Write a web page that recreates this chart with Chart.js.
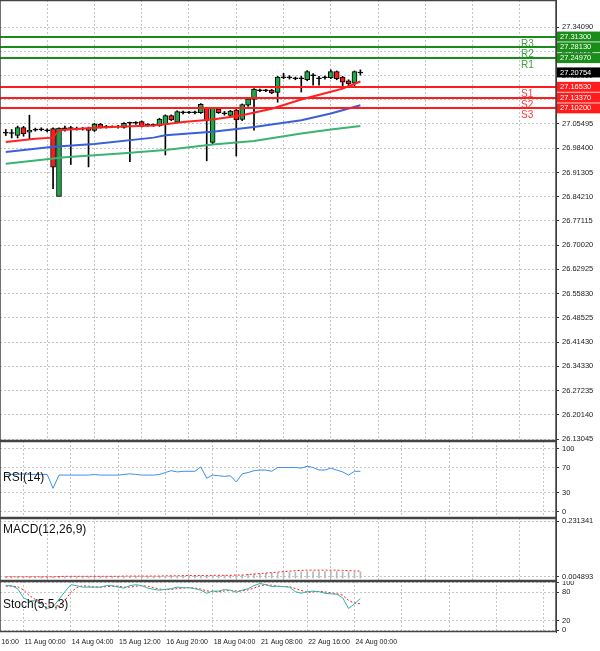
<!DOCTYPE html>
<html>
<head>
<meta charset="utf-8">
<script src="https://cdn.jsdelivr.net/npm/chart.js@4"></script>
<style>
  body { margin: 0; background: #fff; }
  .panel { position: absolute; left: 0; width: 600px; }
</style>
</head>
<body>
<div class="panel" style="top:0;height:441px"><canvas id="priceChart"></canvas></div>
<div class="panel" style="top:441px;height:77px"><canvas id="rsiChart"></canvas></div>
<div class="panel" style="top:518px;height:63px"><canvas id="macdChart"></canvas></div>
<div class="panel" style="top:581px;height:70px"><canvas id="stochChart"></canvas></div>
<script>
// candles: [open, high, low, close]
const candles = [
  [27.030,27.040,27.022,27.031],[27.029,27.040,27.015,27.030],[27.023,27.050,27.015,27.045],
  [27.045,27.049,27.020,27.028],[27.033,27.082,27.010,27.037],[27.039,27.044,27.035,27.040],
  [27.040,27.045,27.036,27.041],[27.037,27.042,27.033,27.038],[27.042,27.045,26.866,26.930],
  [26.844,27.045,26.844,27.043],[27.043,27.050,27.035,27.044],[27.044,27.049,26.937,27.045],
  [27.042,27.047,27.038,27.043],[27.042,27.046,27.038,27.043],[27.043,27.047,26.930,27.038],
  [27.038,27.058,27.034,27.055],[27.055,27.058,27.044,27.046],[27.048,27.052,27.044,27.049],
  [27.048,27.051,27.045,27.049],[27.048,27.052,27.044,27.049],[27.047,27.060,27.044,27.057],
  [27.059,27.062,26.945,27.060],[27.059,27.063,27.055,27.060],[27.062,27.065,27.047,27.050],
  [27.053,27.057,27.049,27.054],[27.053,27.056,27.049,27.054],[27.052,27.073,27.049,27.070],
  [27.055,27.083,26.965,27.080],[27.080,27.083,27.066,27.069],[27.062,27.095,27.060,27.092],
  [27.090,27.094,27.086,27.091],[27.090,27.093,27.087,27.091],[27.090,27.094,27.086,27.091],
  [27.090,27.116,27.087,27.113],[27.101,27.104,26.948,27.067],[27.003,27.104,26.998,27.101],
  [27.098,27.102,27.087,27.090],[27.087,27.093,27.082,27.088],[27.082,27.096,27.078,27.093],
  [27.096,27.099,26.962,27.069],[27.070,27.115,27.066,27.112],[27.112,27.132,27.108,27.129],
  [27.129,27.160,27.038,27.158],[27.155,27.159,27.151,27.156],[27.155,27.158,27.151,27.156],
  [27.155,27.158,27.145,27.148],[27.150,27.196,27.120,27.193],[27.193,27.205,27.189,27.194],
  [27.193,27.198,27.188,27.194],[27.190,27.194,27.186,27.191],[27.190,27.196,27.150,27.191],
  [27.187,27.213,27.183,27.209],[27.199,27.204,27.170,27.200],[27.190,27.196,27.170,27.191],
  [27.193,27.197,27.188,27.194],[27.193,27.215,27.189,27.209],[27.209,27.212,27.186,27.190],
  [27.193,27.196,27.165,27.180],[27.182,27.186,27.168,27.175],[27.177,27.212,27.165,27.209],
  [27.207,27.215,27.200,27.208]
];

// moving averages, read at selected candle indexes
const maFastIdx = [0,5,8,9,15,20,25,27,30,35,40,45,50,55,57,60];
const maFast    = [27.003,27.013,27.016,27.038,27.045,27.049,27.052,27.055,27.062,27.069,27.082,27.101,27.128,27.151,27.160,27.181];
const maMidIdx  = [0,8,15,25,27,35,42,50,55,60];
const maMid     = [26.974,26.989,26.997,27.016,27.023,27.033,27.047,27.067,27.087,27.111];
const maSlowIdx = [0,10,20,27,35,42,50,55,60];
const maSlow    = [26.939,26.958,26.970,26.980,26.996,27.006,27.028,27.040,27.050];

const levelNames  = ['R3','R2','R1','S1','S2','S3'];
const levelValues = [27.3130,27.2813,27.2497,27.1653,27.1337,27.1020];
const levelLabels = ['27.31300','27.28130','27.24970','27.16530','27.13370','27.10200'];
const lastPrice = 27.20754, lastLabel = '27.20754';

const priceTickLabels = ['27.34090','27.26995','27.19900','27.12805','27.05495','26.98400','26.91305','26.84210',
  '26.77115','26.70020','26.62925','26.55830','26.48525','26.41430','26.34330','26.27235','26.20140','26.13045'];

const rsi = [59,59,59,60,59,59,59,59,37,58,58,58,58,58,58,59,58,58,58,58,59,60,59,58,58,58,59,62,65,63,
  64,64,64,71,53,58,57,56,57,47,60,62,65,66,66,64,70,70,70,70,69,72,70,66,66,69,66,63,58,64,64];

const macdHist = [0.004,0.004,0.004,0.004,0.004,0.004,0.004,0.004,0.004,0.006,0.006,0.006,0.006,0.006,0.006,0.006,
  0.006,0.006,0.006,0.006,0.006,0.006,0.006,0.006,0.006,0.006,0.006,0.006,0.008,0.008,0.009,0.009,0.010,0.010,0.010,
  0.010,0.011,0.011,0.011,0.012,0.012,0.015,0.016,0.018,0.019,0.020,0.021,0.022,0.023,0.024,0.024,0.026,0.026,0.026,
  0.026,0.026,0.026,0.025,0.025,0.025,0.025];
const macdSignal = [0.005,0.005,0.005,0.005,0.005,0.005,0.005,0.005,0.005,0.006,0.007,0.007,0.007,0.007,0.007,0.007,
  0.007,0.007,0.007,0.007,0.008,0.008,0.008,0.008,0.008,0.008,0.008,0.009,0.009,0.009,0.010,0.010,0.010,0.010,0.010,
  0.011,0.011,0.011,0.011,0.012,0.012,0.014,0.016,0.018,0.020,0.022,0.024,0.026,0.028,0.030,0.031,0.032,0.032,0.032,
  0.032,0.032,0.032,0.031,0.030,0.029,0.028];

const stochMain = [94,94,87.7,68.4,62,62,55.5,45.8,49,65.2,81.3,96.1,94.2,91,91,91,91,94.2,94.2,91,89,94.2,96.1,94.2,
  89,86.4,84.5,86.4,87.7,91,89.7,89.7,87.7,84.5,78.1,82.6,82.6,85.8,84.5,80,84.5,87.7,94.2,98.7,96.1,92.2,92.9,92.2,
  91,81.3,78.1,81.3,82.6,81.3,78.1,76.8,76.1,68.4,45.8,55.5,67.1];
const stochSignal = [93,93,92,85,73,65,60,55,50,52,63,80,90,94,93,91,91,92,93,93,91,91,93,94,93,90,87,86,86,88,89,90,
  89,87,83,82,81,83,84,83,83,85,89,94,96,95,93,92,92,88,84,80,81,82,81,79,77,74,63,57,56];

const dateTicks  = [-5,3,11,19,27,35,43,51,59,67,75,83,91];
const dateLabels = ['10 Aug 16:00','11 Aug 00:00','14 Aug 04:00','15 Aug 12:00','16 Aug 20:00','18 Aug 04:00',
  '21 Aug 08:00','22 Aug 16:00','24 Aug 00:00'];

const FONT = 'Liberation Sans, Arial, sans-serif';
const GRID = '#c4c4c4';
const X_MIN = -0.98, X_MAX = 93.1;

function xScale() {
  return {
    type: 'linear', min: X_MIN, max: X_MAX, offset: false,
    afterBuildTicks: s => { s.ticks = dateTicks.map(v => ({ value: v })); },
    afterFit: s => { s.height = 0; s.paddingLeft = 0; s.paddingRight = 0; },
    ticks: { display: false },
    border: { display: false, dash: [2, 2] },
    grid: { color: GRID, drawTicks: false }
  };
}

function yScale(min, max, ticks, labels) {
  return {
    position: 'right', min: min, max: max,
    afterFit: s => { s.width = 44; s.paddingTop = 0; s.paddingBottom = 0; },
    afterBuildTicks: s => { s.ticks = ticks.map(v => ({ value: v })); },
    ticks: {
      padding: 3, font: { family: FONT, size: 7.5 }, color: '#222',
      callback: (v, i) => labels[i]
    },
    border: { display: true, color: '#333', dash: [2, 2] },
    grid: { color: GRID, drawTicks: true, tickLength: 3, tickColor: '#333' }
  };
}

// frame + panel title
function panelPlugin(title) {
  return {
    id: 'panel',
    afterDraw(chart) {
      const { ctx, chartArea: a } = chart;
      ctx.save();
      ctx.strokeStyle = '#444';
      ctx.lineWidth = 1.5;
      ctx.strokeRect(0, a.top + 0.5, a.right, a.bottom - a.top - 1);
      if (title) {
        ctx.fillStyle = '#111';
        ctx.font = '12px ' + FONT;
        ctx.textBaseline = 'middle';
        ctx.fillText(title.text, 3, a.top + title.dy);
      }
      ctx.restore();
    }
  };
}

const baseOptions = (pad) => ({
  responsive: true, maintainAspectRatio: false, animation: false,
  layout: { padding: pad || 0 },
  plugins: { legend: { display: false }, tooltip: { enabled: false } }
});

function pts(idx, vals) { return idx.map((x, k) => ({ x: x, y: vals[k] })); }
function series(vals) { return vals.map((v, i) => ({ x: i, y: v })); }

// ---------- price panel ----------
const pMin = 26.1246, pMax = 27.4204;
const priceTicks = priceTickLabels.map((_, k) => 27.3409 - k * 0.071203);

const levelsPlugin = {
  id: 'levels',
  afterDatasetsDraw(chart) {
    const { ctx, chartArea: a, scales: { y } } = chart;
    ctx.save();
    levelValues.forEach((v, k) => {
      const py = Math.round(y.getPixelForValue(v));
      const col = k < 3 ? '#1a8c1a' : '#ff1c1c';
      ctx.strokeStyle = col; ctx.lineWidth = 2;
      ctx.beginPath(); ctx.moveTo(a.left, py); ctx.lineTo(a.right, py); ctx.stroke();
      ctx.fillStyle = k < 3 ? '#3da33d' : '#ff3a3a';
      ctx.font = '10px ' + FONT; ctx.textBaseline = 'top';
      ctx.fillText(levelNames[k], 521, py + 2);
    });
    ctx.restore();
  },
  afterDraw(chart) {
    const { ctx, chartArea: a, scales: { y } } = chart;
    ctx.save();
    ctx.font = '7.5px ' + FONT; ctx.textBaseline = 'middle';
    const tag = (v, txt, bg) => {
      const py = y.getPixelForValue(v);
      ctx.fillStyle = bg; ctx.fillRect(a.right + 1, py - 5, 43, 10);
      ctx.fillStyle = '#fff'; ctx.fillText(txt, a.right + 4, py);
    };
    levelValues.forEach((v, k) => tag(v, levelLabels[k], k < 3 ? '#1a8c1a' : '#ff1c1c'));
    tag(lastPrice, lastLabel, '#000');
    ctx.restore();
  }
};

new Chart(document.getElementById('priceChart'), {
  type: 'bar',
  data: {
    datasets: [
      { type: 'line', data: pts(maFastIdx, maFast), borderColor: '#ff2020', borderWidth: 2, pointRadius: 0, order: 0 },
      { type: 'line', data: pts(maMidIdx, maMid), borderColor: '#3a5fd8', borderWidth: 2, pointRadius: 0, order: 0 },
      { type: 'line', data: pts(maSlowIdx, maSlow), borderColor: '#3cb371', borderWidth: 2, pointRadius: 0, order: 0 },
      { data: candles.map((c, i) => ({ x: i, y: [Math.min(c[0], c[3]) - 0.0008, Math.max(c[0], c[3]) + 0.0008] })),
        backgroundColor: candles.map(c => c[3] > c[0] + 0.002 ? '#1fa84a' : (c[3] < c[0] - 0.002 ? '#ff1a1a' : '#000')),
        borderColor: '#000', borderWidth: 1, borderSkipped: false, barThickness: 5, grouped: false, order: 1 },
      { data: candles.map((c, i) => ({ x: i, y: [c[2], c[1]] })),
        backgroundColor: '#000', barThickness: 1, grouped: false, order: 2 }
    ]
  },
  options: Object.assign(baseOptions(), {
    scales: { x: xScale(), y: yScale(pMin, pMax, priceTicks, priceTickLabels) }
  }),
  plugins: [levelsPlugin, panelPlugin(null)]
});

// ---------- RSI ----------
new Chart(document.getElementById('rsiChart'), {
  type: 'line',
  data: { datasets: [{ data: series(rsi), borderColor: '#3d8fe8', borderWidth: 1, pointRadius: 0 }] },
  options: Object.assign(baseOptions(), {
    scales: { x: xScale(), y: yScale(-10, 112, [100, 70, 30, 0], ['100', '70', '30', '0']) }
  }),
  plugins: [panelPlugin({ text: 'RSI(14)', dy: 37 })]
});

// ---------- MACD ----------
new Chart(document.getElementById('macdChart'), {
  type: 'bar',
  data: {
    datasets: [
      { type: 'line', data: series(macdSignal), borderColor: '#ff2020', borderWidth: 1, borderDash: [2, 2], pointRadius: 0, order: 0 },
      { data: series(macdHist), backgroundColor: '#b8b8b8', barThickness: 1, grouped: false, order: 1 }
    ]
  },
  options: Object.assign(baseOptions(), {
    scales: { x: xScale(), y: yScale(-0.012, 0.2436, [0.231341, 0.004893], ['0.231341', '0.004893']) }
  }),
  plugins: [panelPlugin({ text: 'MACD(12,26,9)', dy: 12 })]
});

// ---------- Stochastic ----------
const datePlugin = {
  id: 'dates',
  afterDraw(chart) {
    const { ctx, chartArea: a, scales: { x } } = chart;
    ctx.save();
    ctx.fillStyle = '#222'; ctx.font = '7px ' + FONT; ctx.textBaseline = 'middle';
    dateLabels.forEach((t, k) => ctx.fillText(t, x.getPixelForValue(dateTicks[k]) + 1, a.bottom + 10));
    ctx.restore();
  }
};

new Chart(document.getElementById('stochChart'), {
  type: 'line',
  data: {
    datasets: [
      { data: series(stochMain), borderColor: '#2bb5a8', borderWidth: 1, pointRadius: 0 },
      { data: series(stochSignal), borderColor: '#ff2020', borderWidth: 1, borderDash: [2, 2], pointRadius: 0 }
    ]
  },
  options: Object.assign(baseOptions({ bottom: 19 }), {
    scales: { x: xScale(), y: yScale(-4, 104, [100, 80, 20, 0], ['100', '80', '20', '0']) }
  }),
  plugins: [panelPlugin({ text: 'Stoch(5,5,3)', dy: 24 }), datePlugin]
});
</script>
</body>
</html>
